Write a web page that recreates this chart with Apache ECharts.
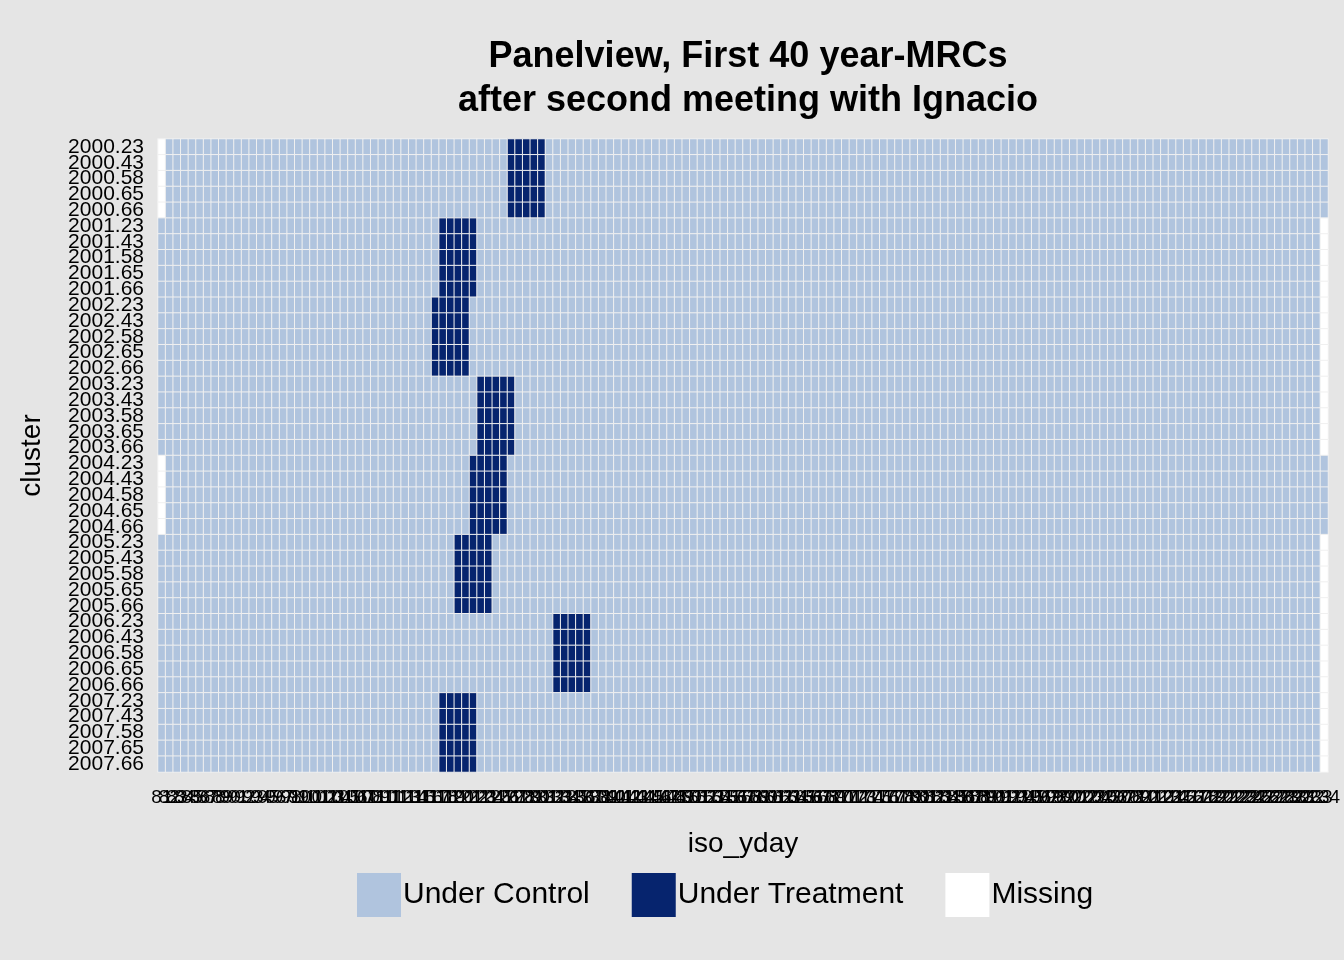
<!DOCTYPE html>
<html>
<head>
<meta charset="utf-8">
<script src="https://cdn.jsdelivr.net/npm/echarts@6/dist/echarts.min.js"></script>
<style>html,body{margin:0;padding:0;background:#e5e5e5}#main{width:1344px;height:960px}</style>
</head>
<body>
<div id="main"></div>
<script>
"use strict";

var years = [2000, 2001, 2002, 2003, 2004, 2005, 2006, 2007];
var suffixes = [".23", ".43", ".58", ".65", ".66"];
var nDays = 154;
var firstDay = 81;
// first treated column (0-based) per year, 5 columns each
var treatStart = [46, 37, 36, 42, 41, 39, 52, 37];
var treatLength = 5;
// which end is missing per year: "first" or "last"
var missingEnd = ["first", "last", "last", "last", "first", "last", "last", "last"];

var clusters = [];
years.forEach(function (y) {
  suffixes.forEach(function (s) { clusters.push(y + s); });
});
var days = [];
for (var d = 0; d < nDays; d++) days.push(String(firstDay + d));

var data = [];
clusters.forEach(function (c, r) {
  var yi = Math.floor(r / suffixes.length);
  for (var i = 0; i < nDays; i++) {
    var v = 0;
    if (i >= treatStart[yi] && i < treatStart[yi] + treatLength) v = 1;
    if ((missingEnd[yi] === "first" && i === 0) || (missingEnd[yi] === "last" && i === nDays - 1)) v = 2;
    data.push([i, r, v]);
  }
});

var myChart = echarts.init(document.getElementById("main"));
var option = {
  backgroundColor: "#e5e5e5",
  title: {
    text: "Panelview, First 40 year-MRCs\nafter second meeting with Ignacio",
    left: 743, top: 30, textAlign: "center",
    textStyle: { fontFamily: "Liberation Sans", fontSize: 36, fontWeight: "bold", color: "#000", lineHeight: 44 }
  },
  grid: { left: 158, right: 16, top: 139, bottom: 188 },
  xAxis: {
    type: "category", data: days,
    name: "iso_yday", nameLocation: "middle", nameGap: 58,
    nameTextStyle: { fontFamily: "Liberation Sans", fontSize: 28, color: "#000" },
    axisLine: { show: false }, axisTick: { show: false }, splitLine: { show: false },
    axisLabel: { interval: 0, fontFamily: "Liberation Sans", fontSize: 19, color: "#000", margin: 16 }
  },
  yAxis: {
    type: "category", data: clusters, inverse: true,
    name: "cluster", nameLocation: "middle", nameGap: 112,
    nameTextStyle: { fontFamily: "Liberation Sans", fontSize: 28, color: "#000" },
    axisLine: { show: false }, axisTick: { show: false }, splitLine: { show: false },
    axisLabel: { interval: 0, fontFamily: "Liberation Sans", fontSize: 21, color: "#000", margin: 14 }
  },
  visualMap: {
    type: "piecewise", dimension: 2, orient: "horizontal",
    left: 342, bottom: 28, itemWidth: 44, itemHeight: 44, itemGap: 42,
    itemSymbol: "rect", selectedMode: false,
    textStyle: { fontFamily: "Liberation Sans", fontSize: 30, color: "#000" },
    textGap: 2,
    pieces: [
      { value: 0, label: "Under Control", color: "#b0c4de" },
      { value: 1, label: "Under Treatment", color: "#06246e" },
      { value: 2, label: "Missing", color: "#ffffff" }
    ]
  },
  series: [{
    type: "heatmap", data: data,
    itemStyle: { borderColor: "#f0f0f0", borderWidth: 1 },
    emphasis: { disabled: true }
  }]
};
option && myChart.setOption(option);
</script>
</body>
</html>
